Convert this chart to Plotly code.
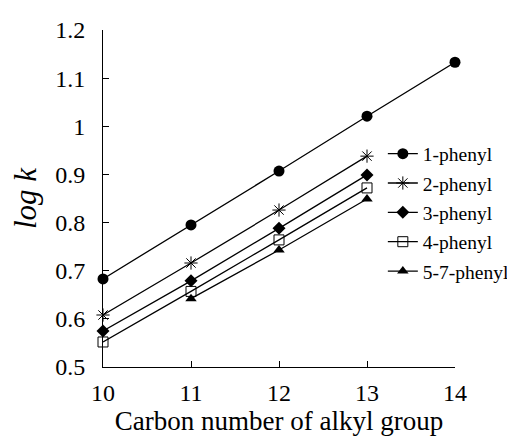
import plotly.graph_objects as go

carbon = [10, 11, 12, 13, 14]
series_names = ["1-phenyl", "2-phenyl", "3-phenyl", "4-phenyl", "5-7-phenyl"]
phenyl1 = [0.683, 0.795, 0.907, 1.021, 1.133]
phenyl2 = [0.608, 0.716, 0.826, 0.938, None]
phenyl3 = [0.575, 0.679, 0.788, 0.899, None]
phenyl4 = [0.552, 0.657, 0.764, 0.872, None]
phenyl57 = [None, 0.642, 0.743, 0.849, None]
y_ticks = [0.5, 0.6, 0.7, 0.8, 0.9, 1.0, 1.1, 1.2]
y_tick_text = ["0.5", "0.6", "0.7", "0.8", "0.9", "1", "1.1", "1.2"]
x_ticks = [10, 11, 12, 13, 14]

values = [phenyl1, phenyl2, phenyl3, phenyl4, phenyl57]
markers = [
    dict(symbol="circle", size=11, color="black"),
    dict(symbol="asterisk-open", size=11, color="black", line=dict(width=1, color="black")),
    dict(symbol="diamond", size=10, color="black"),
    dict(symbol="square-open", size=10, color="black", line=dict(width=1, color="black")),
    dict(symbol="triangle-up", size=10, color="black"),
]

font = "Liberation Serif, Times New Roman, serif"
fig = go.Figure()
for i, (name, vals, mk) in enumerate(zip(series_names, values, markers)):
    fig.add_trace(go.Scatter(
        x=carbon, y=vals, name=name, mode="lines+markers",
        line=dict(color="black", width=1.3), marker=mk,
        cliponaxis=False, legendgroup=name,
    ))

fig.update_layout(
    width=515, height=438,
    margin=dict(l=95, r=68, t=22, b=79, autoexpand=False),
    paper_bgcolor="white", plot_bgcolor="white",
    font=dict(family=font, size=19.5, color="black"),
    showlegend=True,
    legend=dict(x=0.795, y=0.69, xanchor="left", yanchor="top",
                font=dict(family=font, size=19.5, color="black"),
                bgcolor="rgba(0,0,0,0)", traceorder="grouped", tracegroupgap=1),
    xaxis=dict(range=[10, 14], tickvals=x_ticks, ticks="inside", ticklen=6,
               tickcolor="black", showline=True, linecolor="black", linewidth=1,
               showgrid=False, zeroline=False,
               tickfont=dict(family=font, size=24), ticklabelstandoff=4,
               title=dict(text="Carbon number of alkyl group",
                          font=dict(family=font, size=27), standoff=2)),
    yaxis=dict(range=[0.5, 1.2], tickvals=y_ticks, ticktext=y_tick_text,
               ticks="inside", ticklen=6, tickcolor="black",
               showline=True, linecolor="black", linewidth=1,
               showgrid=False, zeroline=False,
               tickfont=dict(family=font, size=24), ticklabelstandoff=12,
               title=dict(text="<i>log k</i>", font=dict(family=font, size=31), standoff=10)),
)

fig.write_html("out.html")
